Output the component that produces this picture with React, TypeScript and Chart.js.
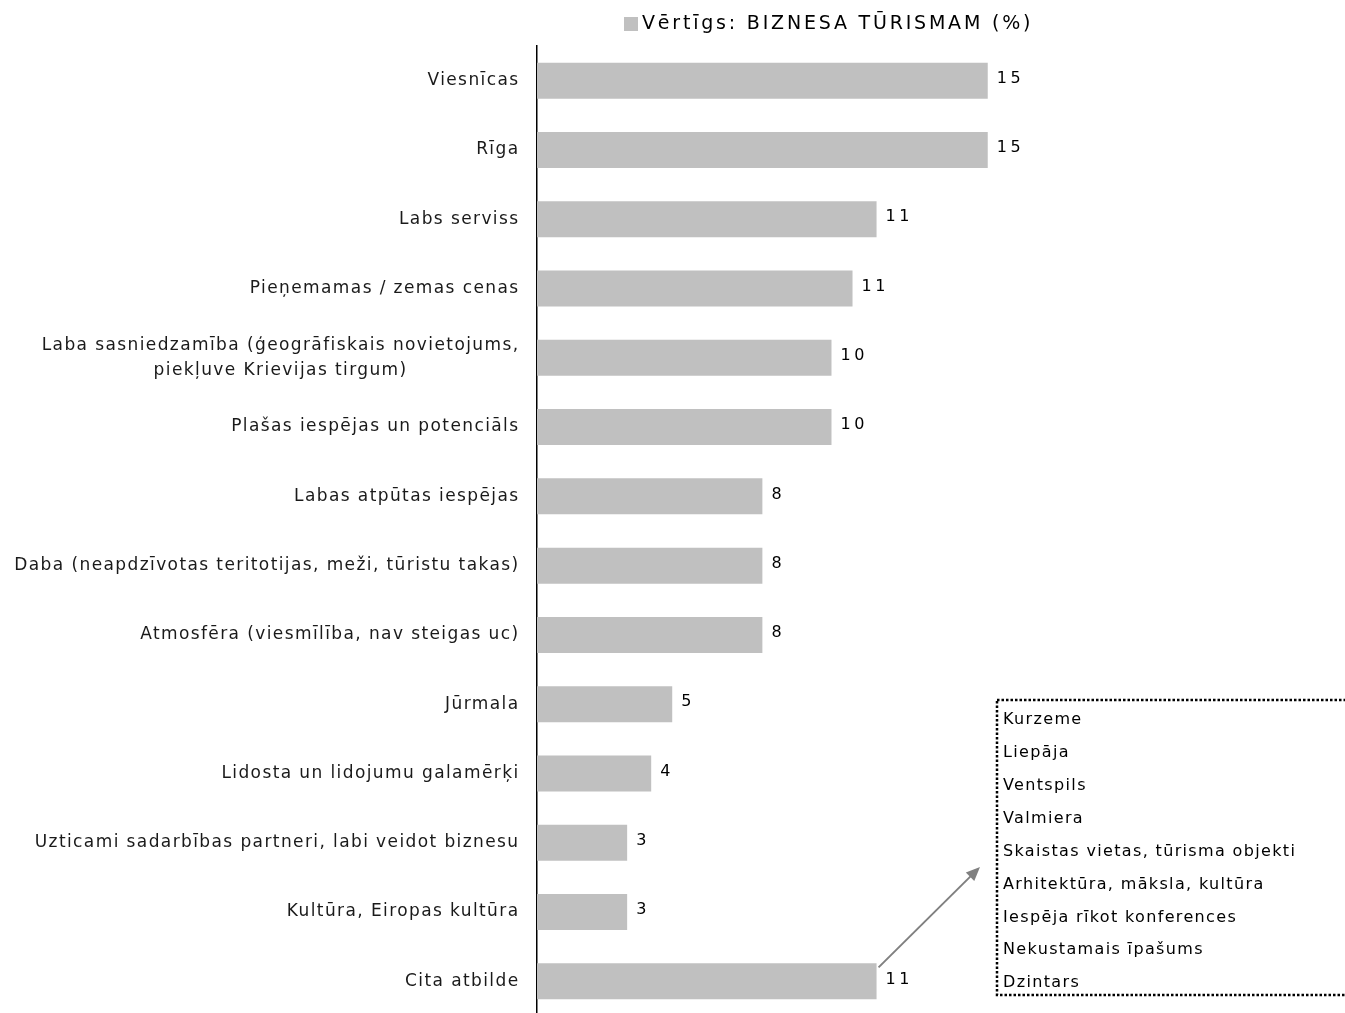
import React, { useEffect, useRef } from 'react';
import { Chart, registerables } from 'chart.js';

Chart.register(...registerables);

const categories: (string | string[])[] = [
  'Viesnīcas',
  'Rīga',
  'Labs serviss',
  'Pieņemamas / zemas cenas',
  ['Laba sasniedzamība (ģeogrāfiskais novietojums,', 'piekļuve Krievijas tirgum)'],
  'Plašas iespējas un potenciāls',
  'Labas atpūtas iespējas',
  'Daba (neapdzīvotas teritotijas, meži, tūristu takas)',
  'Atmosfēra (viesmīlība, nav steigas uc)',
  'Jūrmala',
  'Lidosta un lidojumu galamērķi',
  'Uzticami sadarbības partneri, labi veidot biznesu',
  'Kultūra, Eiropas kultūra',
  'Cita atbilde',
];
const values = [15.0, 15.0, 11.3, 10.5, 9.8, 9.8, 7.5, 7.5, 7.5, 4.5, 3.8, 3.0, 3.0, 11.3];
const valueLabels = ['15', '15', '11', '11', '10', '10', '8', '8', '8', '5', '4', '3', '3', '11'];
const seriesName = 'Vērtīgs: BIZNESA TŪRISMAM (%)';
const otherAnswers = [
  'Kurzeme',
  'Liepāja',
  'Ventspils',
  'Valmiera',
  'Skaistas vietas, tūrisma objekti',
  'Arhitektūra, māksla, kultūra',
  'Iespēja rīkot konferences',
  'Nekustamais īpašums',
  'Dzintars',
];

const FONT = '"DejaVu Sans", Verdana, sans-serif';
const BAR_COLOR = '#c0c0c0';

const decorPlugin = {
  id: 'decor',
  afterDraw(chart: any) {
    const ctx = chart.ctx as CanvasRenderingContext2D;
    const yScale = chart.scales.y;
    const meta = chart.getDatasetMeta(0);
    ctx.save();

    // category labels
    ctx.fillStyle = '#1a1a1a';
    ctx.font = `17px ${FONT}`;
    (ctx as any).letterSpacing = '1.4px';
    ctx.textBaseline = 'middle';
    const rightX = yScale.right - 17.5;
    categories.forEach((lab, i) => {
      const y = yScale.getPixelForValue(i);
      const lines = Array.isArray(lab) ? lab : [lab];
      if (lines.length === 1) {
        ctx.textAlign = 'right';
        ctx.fillText(lines[0], rightX, y);
      } else {
        const widths = lines.map((l) => ctx.measureText(l).width);
        const maxW = Math.max(...widths);
        const cx = rightX - maxW / 2;
        ctx.textAlign = 'center';
        const lh = 25;
        lines.forEach((l, k) => {
          ctx.fillText(l, cx, y + (k - (lines.length - 1) / 2) * lh);
        });
      }
    });

    // value labels
    ctx.fillStyle = '#000';
    ctx.font = `16px ${FONT}`;
    (ctx as any).letterSpacing = '3.5px';
    ctx.textAlign = 'left';
    meta.data.forEach((bar: any, i: number) => {
      ctx.fillText(valueLabels[i], bar.x + 9, bar.y - 2);
    });

    // legend
    ctx.fillStyle = BAR_COLOR;
    ctx.fillRect(624, 17, 14, 14);
    ctx.fillStyle = '#000';
    ctx.font = `19px ${FONT}`;
    (ctx as any).letterSpacing = '2.8px';
    ctx.textAlign = 'left';
    ctx.fillText(seriesName, 642, 24);

    // arrow from last bar
    const last = meta.data[meta.data.length - 1];
    const sx = last.x + 2;
    const sy = last.y - last.height / 2 + 4;
    const ex = 980;
    const ey = 867;
    ctx.strokeStyle = '#808080';
    ctx.fillStyle = '#808080';
    ctx.lineWidth = 2;
    const ang = Math.atan2(ey - sy, ex - sx);
    ctx.beginPath();
    ctx.moveTo(sx, sy);
    ctx.lineTo(ex - 8 * Math.cos(ang), ey - 8 * Math.sin(ang));
    ctx.stroke();
    ctx.beginPath();
    ctx.moveTo(ex, ey);
    ctx.lineTo(ex - 14 * Math.cos(ang) + 6 * Math.sin(ang), ey - 14 * Math.sin(ang) - 6 * Math.cos(ang));
    ctx.lineTo(ex - 14 * Math.cos(ang) - 6 * Math.sin(ang), ey - 14 * Math.sin(ang) + 6 * Math.cos(ang));
    ctx.closePath();
    ctx.fill();

    // dotted box with other answers
    ctx.strokeStyle = '#000';
    ctx.lineWidth = 2.5;
    ctx.setLineDash([2.5, 2]);
    ctx.strokeRect(997, 700, 420, 295);
    ctx.setLineDash([]);
    ctx.fillStyle = '#000';
    ctx.font = `16px ${FONT}`;
    (ctx as any).letterSpacing = '1.35px';
    ctx.textAlign = 'left';
    otherAnswers.forEach((t, i) => {
      ctx.fillText(t, 1003, 720 + i * 32.9);
    });

    (ctx as any).letterSpacing = '0px';
    ctx.restore();
  },
};

export default function App() {
  const ref = useRef<HTMLCanvasElement>(null);
  useEffect(() => {
    if (!ref.current) return;
    const chart = new Chart(ref.current, {
      type: 'bar',
      data: {
        labels: categories,
        datasets: [
          {
            label: seriesName,
            data: values,
            backgroundColor: BAR_COLOR,
            barPercentage: 0.52,
            categoryPercentage: 1,
          },
        ],
      },
      options: {
        indexAxis: 'y',
        animation: false,
        responsive: false,
        devicePixelRatio: 1,
        layout: { padding: { top: 46, right: 207, bottom: 0, left: 0 } },
        plugins: { legend: { display: false }, tooltip: { enabled: false } },
        scales: {
          x: { min: 0, max: 20, display: false },
          y: {
            grid: { display: false },
            border: { display: true, color: '#000', width: 1.5 },
            ticks: { display: false },
            afterFit: (scale: any) => {
              scale.width = 537;
            },
          },
        },
      },
      plugins: [decorPlugin],
    });
    return () => chart.destroy();
  }, []);
  return (
    <div style={{ position: 'fixed', left: 0, top: 0, width: 1345, height: 1013, overflow: 'hidden', background: '#fff' }}>
      <canvas ref={ref} width={1345} height={1016} style={{ display: 'block', width: 1345, height: 1016 }} />
    </div>
  );
}
